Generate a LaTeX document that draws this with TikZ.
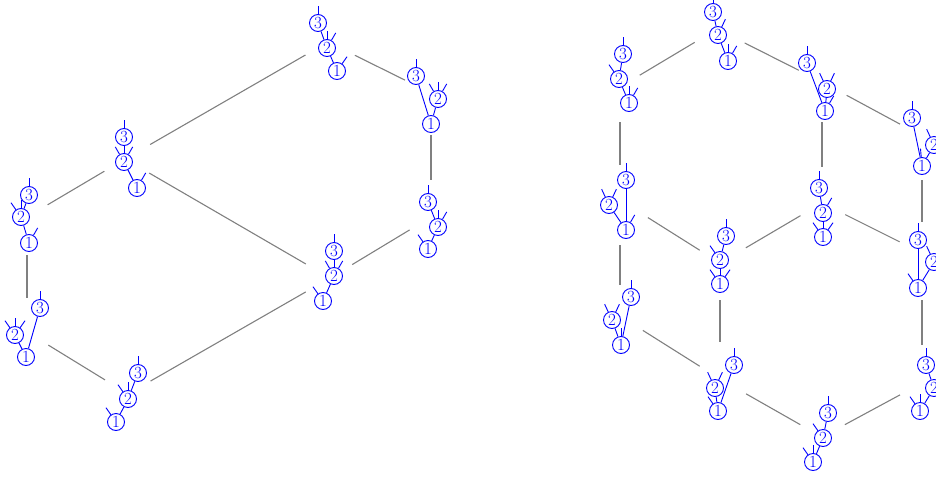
\documentclass[tikz,border=0pt]{standalone}
\tikzset{
 cn/.style={circle, draw=blue, text=blue, line width=0.9pt, inner sep=0pt, minimum size=17pt, font=\fontsize{17}{17}\selectfont},
 bl/.style={draw=blue, line width=0.9pt},
 ge/.style={draw=black!50, line width=1.1pt},
}
\newcommand{\trio}[4]{\node[cn] (#13) at (#2) {3}; \node[cn] (#12) at (#3) {2}; \node[cn] (#11) at (#4) {1};}
\newcommand{\stb}[2]{\draw[bl] (#1.#2) -- ++(#2:8.5pt);}
\newcommand{\lnk}[2]{\draw[bl] (#1) -- (#2);}
\newcommand{\ged}[4]{\draw[ge, shorten <=#3pt, shorten >=#4pt] (#1) -- (#2);}
\begin{document}
\begin{tikzpicture}[x=1pt,y=-1pt]
\useasboundingbox (0,0) rectangle (936,479);
% ---------- left graph vertices
\coordinate (vA) at (328,42);
\coordinate (vB) at (431,93);
\coordinate (vC) at (431,217);
\coordinate (vD) at (330,278);
\coordinate (vE) at (125,159);
\coordinate (vF) at (27,217);
\coordinate (vG) at (27,332);
\coordinate (vH) at (128,394);
\ged{vE}{vA}{29}{26}
\ged{vE}{vD}{28}{28}
\ged{vE}{vF}{24}{24}
\ged{vA}{vB}{30}{29}
\ged{vB}{vC}{42}{37}
\ged{vC}{vD}{25}{26}
\ged{vF}{vG}{38}{34}
\ged{vG}{vH}{25}{27}
\ged{vH}{vD}{26}{28}
% glyph A
\trio{A}{318,23}{327,48}{337,71}
\lnk{A3}{A2}\lnk{A2}{A1}
\stb{A3}{90}\stb{A2}{90}\stb{A2}{60}\stb{A1}{55}
% glyph B
\trio{B}{416,76}{438,99}{431,124}
\lnk{B3}{B1}\lnk{B2}{B1}
\stb{B3}{90}\stb{B2}{120}\stb{B2}{90}\stb{B2}{60}
% glyph C
\trio{C}{428,202}{438,227}{428,249}
\lnk{C3}{C2}\lnk{C2}{C1}
\stb{C3}{90}\stb{C2}{90}\stb{C2}{60}\stb{C1}{125}
% glyph D
\trio{D}{334,251}{334,276}{323,301}
\lnk{D3}{D2}\lnk{D2}{D1}
\stb{D3}{90}\stb{D2}{120}\stb{D2}{60}\stb{D1}{125}
% glyph E
\trio{E}{124,137}{124,162}{137,188}
\lnk{E3}{E2}\lnk{E2}{E1}
\stb{E3}{90}\stb{E2}{120}\stb{E2}{60}\stb{E1}{60}
% glyph F
\trio{F}{29,195}{21,217}{29,243}
\lnk{F3}{F2}\lnk{F2}{F1}
\stb{F3}{90}\stb{F2}{125}\stb{F2}{90}\stb{F1}{60}
% glyph G
\trio{G}{40,308}{15,335}{26,357}
\lnk{G3}{G1}\lnk{G2}{G1}
\stb{G3}{90}\stb{G2}{125}\stb{G2}{90}\stb{G2}{55}
% glyph H
\trio{H}{138,373}{128,399}{116,422}
\lnk{H3}{H2}\lnk{H2}{H1}
\stb{H3}{90}\stb{H2}{125}\stb{H2}{90}\stb{H1}{125}
% ---------- right graph vertices
\coordinate (w1) at (620,87);
\coordinate (w2) at (717,29);
\coordinate (w3) at (822,82);
\coordinate (w4) at (922,136);
\coordinate (w5) at (620,200);
\coordinate (w6) at (720,263);
\coordinate (w7) at (822,203);
\coordinate (w8) at (922,253);
\coordinate (w9) at (620,316);
\coordinate (w10) at (720,379);
\coordinate (w11) at (822,437);
\coordinate (w12) at (922,383);
\ged{w1}{w2}{23}{26}
\ged{w2}{w3}{31}{26}
\ged{w3}{w4}{28}{25}
\ged{w1}{w5}{35}{35}
\ged{w3}{w7}{40}{36}
\ged{w4}{w8}{44}{31}
\ged{w5}{w6}{33}{24}
\ged{w6}{w7}{30}{25}
\ged{w7}{w8}{26}{25}
\ged{w5}{w9}{45}{31}
\ged{w6}{w10}{37}{37}
\ged{w8}{w12}{47}{38}
\ged{w9}{w10}{27}{24}
\ged{w10}{w11}{30}{25}
\ged{w11}{w12}{26}{25}
% R1
\trio{Ra}{623,54}{619,79}{629,103}
\lnk{Ra3}{Ra2}\lnk{Ra2}{Ra1}
\stb{Ra3}{90}\stb{Ra2}{125}\stb{Ra1}{90}\stb{Ra1}{60}
% R2
\trio{Rb}{713,12}{718,35}{728,61}
\lnk{Rb3}{Rb2}\lnk{Rb2}{Rb1}
\stb{Rb3}{90}\stb{Rb2}{65}\stb{Rb1}{90}\stb{Rb1}{60}
% R3
\trio{Rc}{807,63}{827,89}{825,111}
\lnk{Rc3}{Rc1}\lnk{Rc2}{Rc1}
\stb{Rc3}{90}\stb{Rc2}{115}\stb{Rc2}{65}\stb{Rc1}{60}
% R4
\trio{Rd}{912,118}{934,145}{922,166}
\lnk{Rd3}{Rd1}\lnk{Rd2}{Rd1}
\stb{Rd3}{90}\stb{Rd2}{115}\stb{Rd2}{65}\stb{Rd1}{95}
% R5
\trio{Re}{626,180}{609,205}{626,230}
\lnk{Re3}{Re1}\lnk{Re2}{Re1}
\stb{Re3}{90}\stb{Re2}{115}\stb{Re2}{65}\stb{Re1}{60}
% R6
\trio{Rf}{726,236}{720,260}{720,284}
\lnk{Rf3}{Rf2}\lnk{Rf2}{Rf1}
\stb{Rf3}{90}\stb{Rf2}{125}\stb{Rf1}{125}\stb{Rf1}{55}
% R7
\trio{Rg}{819,188}{823,213}{823,237}
\lnk{Rg3}{Rg2}\lnk{Rg2}{Rg1}
\stb{Rg3}{90}\stb{Rg2}{60}\stb{Rg1}{125}\stb{Rg1}{55}
% R8
\trio{Rh}{918,240}{934,262}{918,288}
\lnk{Rh3}{Rh1}\lnk{Rh2}{Rh1}
\stb{Rh3}{90}\stb{Rh2}{115}\stb{Rh2}{65}\stb{Rh1}{125}
% R9
\trio{Ri}{631,297}{612,320}{621,345}
\lnk{Ri3}{Ri1}\lnk{Ri2}{Ri1}
\stb{Ri3}{90}\stb{Ri2}{115}\stb{Ri2}{65}\stb{Ri1}{90}
% R10
\trio{Rj}{734,365}{715,388}{718,411}
\lnk{Rj3}{Rj1}\lnk{Rj2}{Rj1}
\stb{Rj3}{90}\stb{Rj2}{115}\stb{Rj2}{65}\stb{Rj1}{125}
% R11
\trio{Rk}{828,413}{823,438}{813,462}
\lnk{Rk3}{Rk2}\lnk{Rk2}{Rk1}
\stb{Rk3}{90}\stb{Rk2}{125}\stb{Rk1}{125}\stb{Rk1}{90}
% R12
\trio{Rl}{926,365}{934,388}{920,411}
\lnk{Rl3}{Rl2}\lnk{Rl2}{Rl1}
\stb{Rl3}{90}\stb{Rl2}{60}\stb{Rl1}{125}\stb{Rl1}{90}
\end{tikzpicture}
\end{document}
